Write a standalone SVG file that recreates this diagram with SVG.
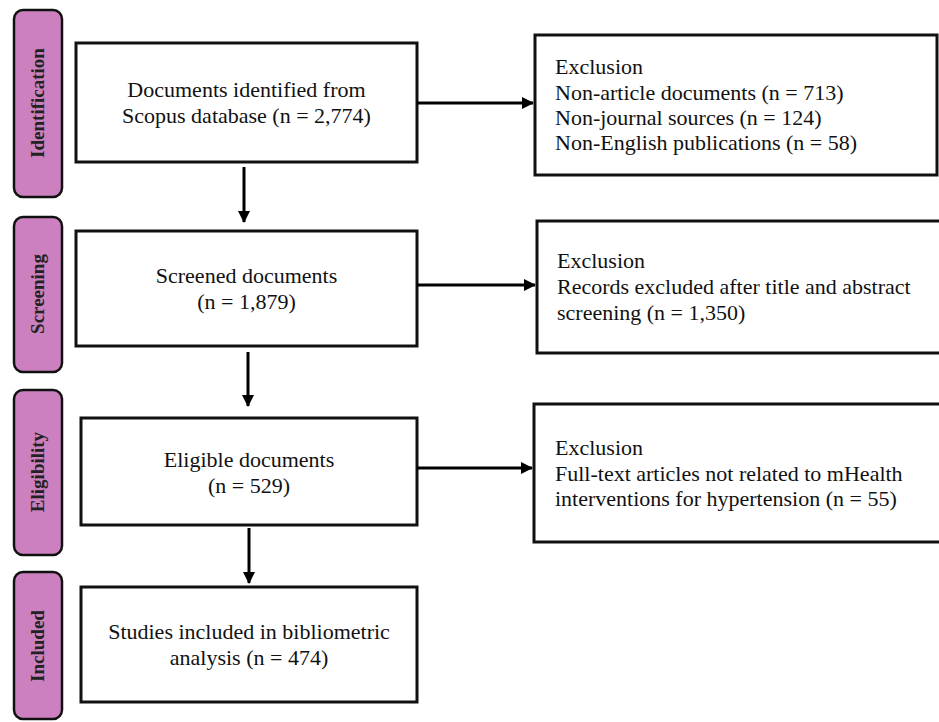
<svg xmlns="http://www.w3.org/2000/svg" width="939" height="722" viewBox="0 0 939 722">
<style>
.stage{fill:#cc80c0;stroke:#111;stroke-width:2.5}
.box{fill:#fff;stroke:#111;stroke-width:3}
.stlbl{font-family:"Liberation Serif","Times New Roman",serif;font-weight:bold;font-size:19px;fill:#222;text-anchor:middle}
.txt{font-family:"Liberation Serif","Times New Roman",serif;font-size:22px;fill:#111}
.mid{text-anchor:middle}
.ln{stroke:#000;stroke-width:3;fill:none}
</style>
<defs>
<marker id="ah" markerWidth="12" markerHeight="12" viewBox="0 0 12 12" refX="11" refY="6" orient="auto" markerUnits="userSpaceOnUse">
<path d="M0,0 L12,6 L0,12 Z" fill="#000"/>
</marker>
</defs>
<rect width="939" height="722" fill="#fff"/>
<g id="stage-identification"><rect class="stage" x="14" y="10" width="48" height="187" rx="9"/><text class="stlbl" transform="translate(44,103) rotate(-90)">Identification</text></g>
<g id="stage-screening"><rect class="stage" x="14" y="217" width="48" height="155" rx="9"/><text class="stlbl" transform="translate(44,294) rotate(-90)">Screening</text></g>
<g id="stage-eligibility"><rect class="stage" x="14" y="390" width="48" height="165" rx="9"/><text class="stlbl" transform="translate(44,472) rotate(-90)">Eligibility</text></g>
<g id="stage-included"><rect class="stage" x="14" y="572" width="48" height="147" rx="9"/><text class="stlbl" transform="translate(44,646) rotate(-90)">Included</text></g>
<g id="identified"><rect class="box" x="76" y="43" width="341" height="119"/><text class="txt mid" x="246.5" y="97">Documents identified from</text><text class="txt mid" x="246.5" y="123">Scopus database (n = 2,774)</text></g>
<g id="screened"><rect class="box" x="76" y="231" width="341" height="115"/><text class="txt mid" x="246.5" y="283">Screened documents</text><text class="txt mid" x="246.5" y="309">(n = 1,879)</text></g>
<g id="eligible"><rect class="box" x="81" y="418" width="336" height="107"/><text class="txt mid" x="249" y="467">Eligible documents</text><text class="txt mid" x="249" y="493">(n = 529)</text></g>
<g id="included"><rect class="box" x="81" y="587" width="336" height="115"/><text class="txt mid" x="249" y="639">Studies included in bibliometric</text><text class="txt mid" x="249" y="665">analysis (n = 474)</text></g>
<g id="excl1"><rect class="box" x="535" y="35" width="402" height="140"/><text class="txt" x="555" y="74">Exclusion</text><text class="txt" x="555" y="100">Non-article documents (n = 713)</text><text class="txt" x="555" y="125">Non-journal sources (n = 124)</text><text class="txt" x="555" y="150">Non-English publications (n = 58)</text></g>
<g id="excl2"><rect class="box" x="537" y="221" width="420" height="132"/><text class="txt" x="557" y="268">Exclusion</text><text class="txt" x="557" y="294">Records excluded after title and abstract</text><text class="txt" x="557" y="320">screening (n = 1,350)</text></g>
<g id="excl3"><rect class="box" x="534" y="404" width="420" height="138"/><text class="txt" x="555" y="455">Exclusion</text><text class="txt" x="555" y="481">Full-text articles not related to mHealth</text><text class="txt" x="555" y="506">interventions for hypertension (n = 55)</text></g>
<g id="connectors">
<line class="ln" x1="417" y1="103" x2="533" y2="103" marker-end="url(#ah)"/>
<line class="ln" x1="417" y1="285" x2="535" y2="285" marker-end="url(#ah)"/>
<line class="ln" x1="417" y1="468" x2="532" y2="468" marker-end="url(#ah)"/>
<line class="ln" x1="244" y1="167" x2="244" y2="222" marker-end="url(#ah)"/>
<line class="ln" x1="248" y1="352" x2="248" y2="406" marker-end="url(#ah)"/>
<line class="ln" x1="249" y1="528" x2="249" y2="583" marker-end="url(#ah)"/>
</g>
</svg>
